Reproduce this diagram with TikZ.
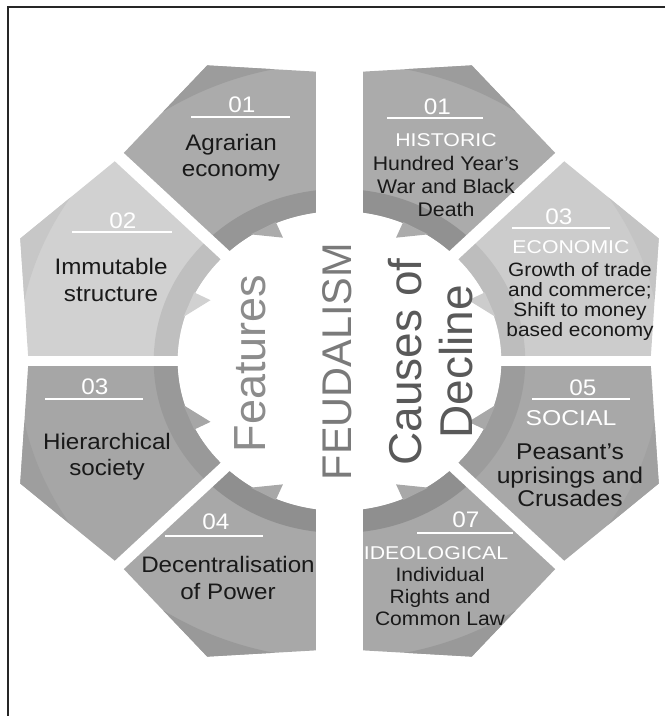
\documentclass[tikz,border=0pt]{standalone}
\usepackage{fontspec}
\setmainfont{Liberation Sans}
\usepackage{tikz}
\usetikzlibrary{calc}
\usetikzlibrary{positioning}

% one piece of the ring: from angle, to angle, fill, outer band, inner band
\newcommand{\segpiece}[5]{%
\pgfmathsetmacro{\segmid}{(#1+#2)/2}
\begin{scope}
\clip (#1:150) -- (#1:288) -- (\segmid:320) -- (#2:288) -- (#2:150)
  arc[start angle=#2, end angle=#1, radius=150] -- cycle;
\fill[#3] (0,0) circle[radius=340];
\fill[#4, even odd rule] (0,0) circle[radius=340] (0,0) circle[radius=298];
\fill[#5, even odd rule] (0,0) circle[radius=172] (0,0) circle[radius=150];
\end{scope}
}
% small tooth on the inner edge: angle, direction (1 or -1), fill
\newcommand{\segtip}[3]{%
\fill[#3] ({#1-5*(#2)}:151) -- ({#1-5*(#2)}:134) -- ({#1+5*(#2)}:151) -- cycle;
}

\begin{document}
\begin{tikzpicture}[
x=1pt, y=-1pt,
segnum/.style={text=white, font=\fontsize{22.5}{24}\selectfont, xscale=1.08, inner sep=0pt},
segcat/.style={text=white, font=\fontsize{18.5}{19}\selectfont, xscale=1.15, inner sep=0pt},
segtext/.style={text=black!90, align=center, font=\fontsize{22.4}{26.5}\selectfont, xscale=1.08, inner sep=0pt},
segline/.style={white, line width=1.5pt},
gapline/.style={white, line width=12pt},
bigtext/.style={rotate=90, inner sep=0pt, align=center}
]
\useasboundingbox (0,0) rectangle (670,716);

% the ring, a little wider than high
\begin{scope}[shift={(339.5,361)}, xscale=1.08, yscale=-1]
% Features
\segpiece{90}{135}{black!33}{black!39}{black!41}
\segpiece{135}{180}{black!18}{black!22}{black!25}
\segpiece{180}{225}{black!35}{black!38}{black!40}
\segpiece{225}{270}{black!34}{black!40}{black!44}
% Causes of decline
\segpiece{90}{45}{black!33}{black!39}{black!43}
\segpiece{45}{0}{black!20}{black!23}{black!26}
\segpiece{0}{-45}{black!34}{black!37}{black!39}
\segpiece{-45}{-90}{black!34}{black!40}{black!44}

% white gaps between the pieces
\draw[gapline] (0,0) -- (45:340);
\draw[gapline] (0,0) -- (135:340);
\draw[gapline] (0,0) -- (225:340);
\draw[gapline] (0,0) -- (315:340);
\draw[gapline, line width=10pt] (180:340) -- (0:340);
\fill[white] (-21.8,-300) rectangle (21.8,300);

\segtip{118}{1}{black!33}
\segtip{158}{1}{black!18}
\segtip{202}{-1}{black!35}
\segtip{242}{-1}{black!34}
\segtip{62}{-1}{black!33}
\segtip{22}{-1}{black!20}
\segtip{-22}{1}{black!34}
\segtip{-62}{1}{black!34}
\end{scope}

\draw[black!85, line width=1.6pt] (665,7) -- (8,7) -- (8,716);

% middle column
\node[bigtext, text=black!45, font=\fontsize{45}{50}\selectfont] (features) at (250,363.5) {Features};
\node[bigtext, text=black!52, font=\fontsize{41.5}{45}\selectfont] (feudal) at (337,361.5) {FEUDALISM};
\node[bigtext, text=black!65, font=\fontsize{46}{51.5}\selectfont] (decline) at (430.5,362) {Causes of\\Decline};

% Features side
\node[segnum] (numL1) at (242,105) {01};
\draw[segline] (191,117) -- (290,117);
\node[segtext] (txtL1) at (231,157.5) {Agrarian\\economy};

\node[segnum] (numL2) at (123,221) {02};
\draw[segline] (72,232) -- (172,232);
\node[segtext] (txtL2) at (111,280) {Immutable\\structure};

\node[segnum] (numL3) at (95,387) {03};
\draw[segline] (45,399) -- (143,399);
\node[segtext] (txtL3) at (107,456.5) {Hierarchical\\society};

\node[segnum] (numL4) at (216,522) {04};
\draw[segline] (165,536) -- (263,536);
\node[segtext] (txtL4) at (228,578) {Decentralisation\\of Power};

% Causes side
\node[segnum] (numR1) at (437.5,106.7) {01};
\draw[segline] (387,118) -- (483,118);
\node[segcat] (catR1) at (446,140) {HISTORIC};
\node[segtext, font=\fontsize{19.7}{23}\selectfont] (txtR1) at (446,186.6) {Hundred Year’s\\War and Black\\Death};

\node[segnum] (numR3) at (559,216.7) {03};
\draw[segline] (512,228) -- (610,228);
\node[segcat] (catR3) at (571,247.5) {ECONOMIC};
\node[segtext, font=\fontsize{19.3}{20}\selectfont] (txtR3) at (580,302) {Growth of trade\\and commerce;\\Shift to money\\based economy};

\node[segnum] (numR5) at (583,387.5) {05};
\draw[segline] (532,399) -- (630,399);
\node[segcat, font=\fontsize{21.5}{22}\selectfont] (catR5) at (571,418) {SOCIAL};
\node[segtext, font=\fontsize{22.8}{23.5}\selectfont] (txtR5) at (570,475.3) {Peasant’s\\uprisings and\\Crusades};

\node[segnum] (numR7) at (466,520) {07};
\draw[segline] (417,533) -- (513,533);
\node[segcat] (catR7) at (436,553) {IDEOLOGICAL};
\node[segtext, font=\fontsize{19.5}{22}\selectfont] (txtR7) at (440,597) {Individual\\Rights and\\Common Law};
\end{tikzpicture}
\end{document}
